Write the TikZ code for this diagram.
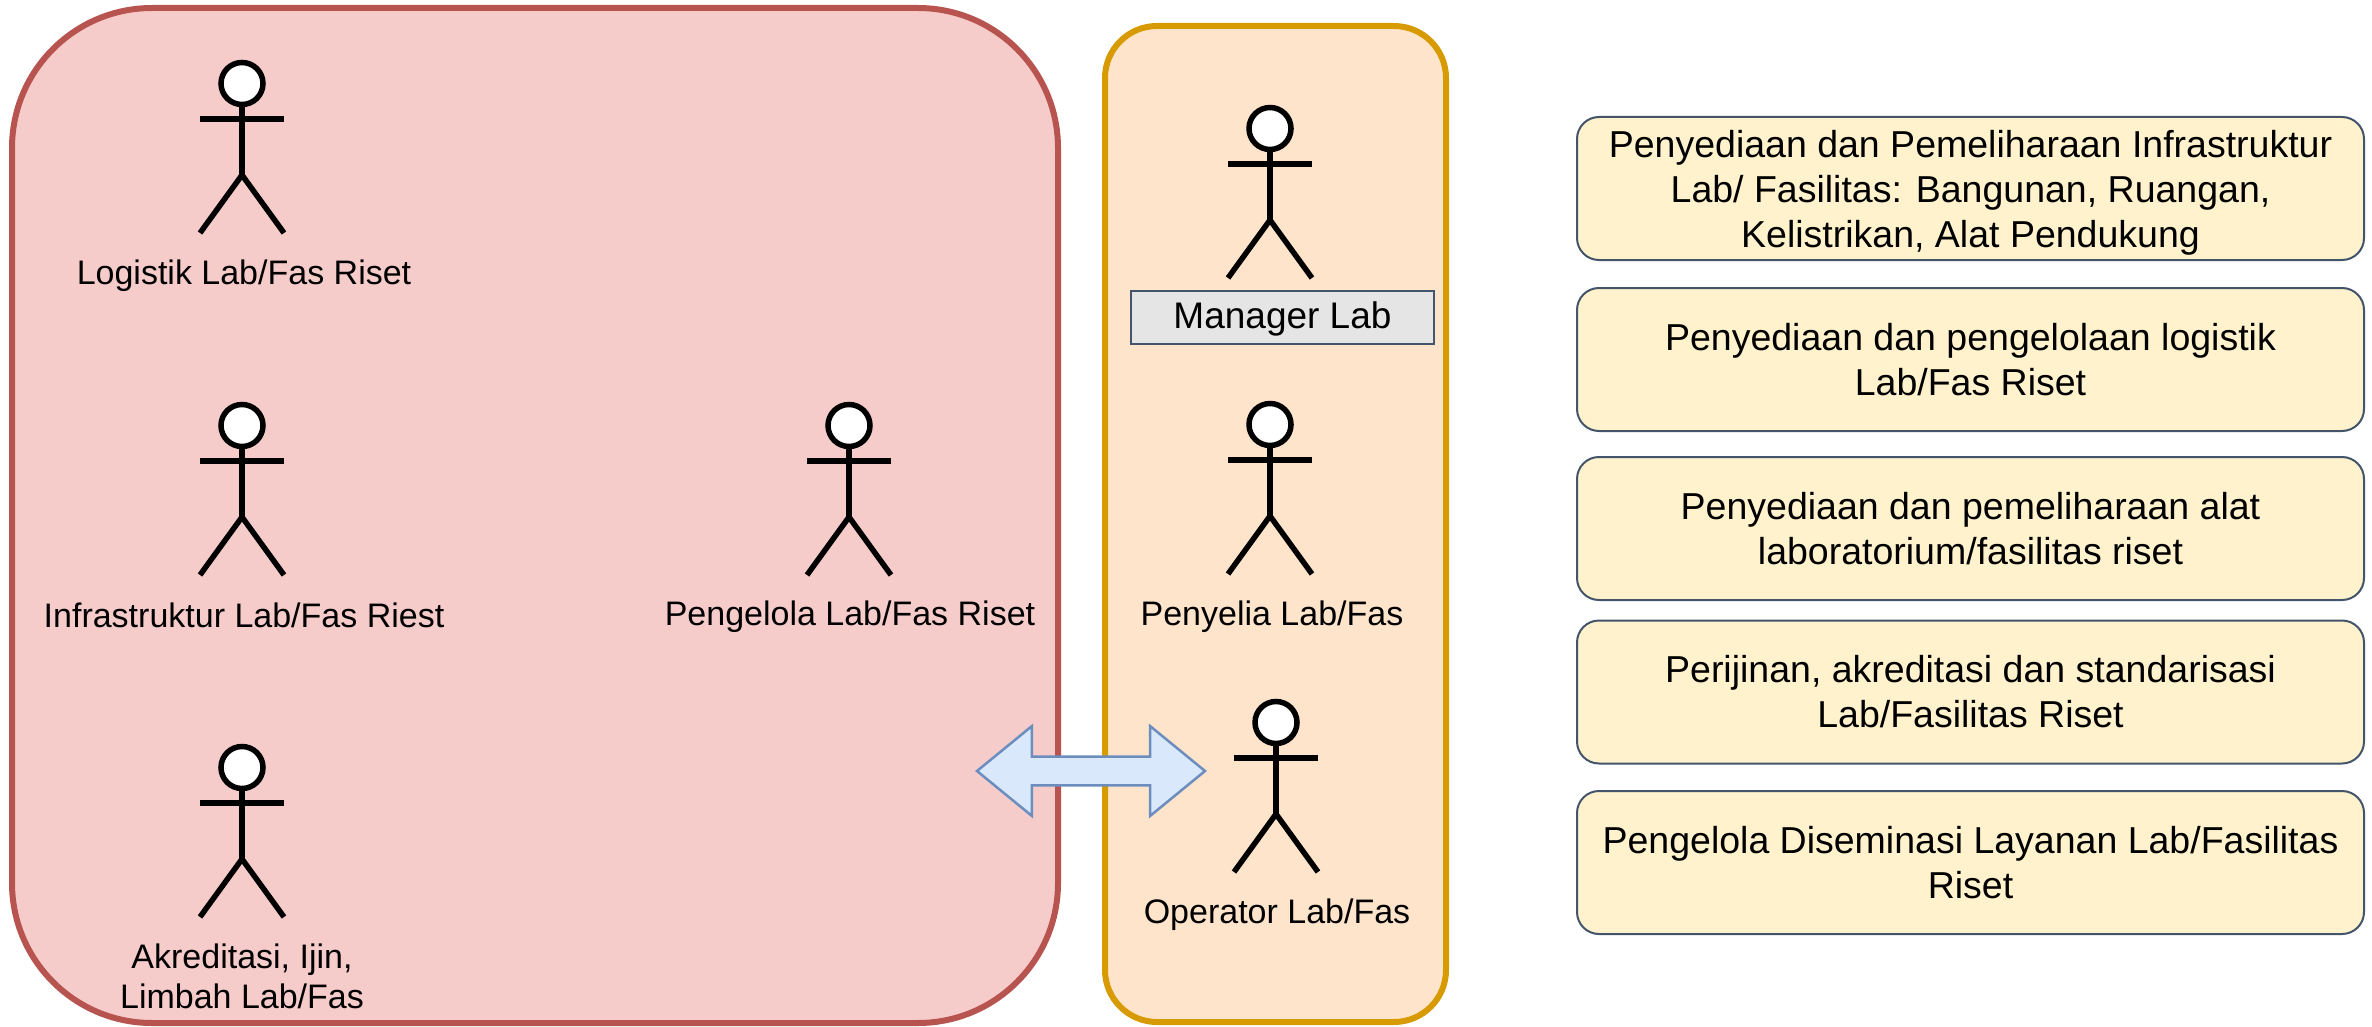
\documentclass[tikz,border=0pt]{standalone}
\usepackage{fontspec}
\setmainfont{Liberation Sans}
\usetikzlibrary{shapes.arrows}
\definecolor{redfill}{HTML}{F6CCCB}
\definecolor{redline}{HTML}{B85450}
\definecolor{orfill}{HTML}{FFE4CC}
\definecolor{orline}{HTML}{D79B00}
\definecolor{yelfill}{HTML}{FFF2CC}
\definecolor{boxline}{HTML}{44546A}
\definecolor{arrfill}{HTML}{DAE8FC}
\definecolor{arrline}{HTML}{6C8EBF}
\tikzset{
  x=1pt,y=-1pt,
  groupred/.style={draw=redline,fill=redfill,line width=6pt,rounded corners=140pt},
  grouporange/.style={draw=orline,fill=orfill,line width=6pt,rounded corners=52pt},
  actorhead/.style={circle,draw=black,fill=white,line width=5.5pt,minimum size=42pt,inner sep=0pt,outer sep=0pt},
  actorfig/.pic={
    \node[actorhead] (-head) at (0,23.5) {};
    \draw[black,line width=5.5pt] (-head.south) -- (0,115) coordinate (-hip);
    \draw[black,line width=5.5pt] (-42,59) -- (42,59);
    \draw[black,line width=5.5pt] (-42,173) -- (-hip) -- (42,173);
  },
  lbl/.style={font=\fontsize{34}{40}\selectfont,align=center,inner sep=0pt,text=black},
  rolebox/.style={draw=boxline,fill=yelfill,line width=2pt,rounded corners=22pt,minimum width=787pt,minimum height=143pt,inner sep=0pt,outer sep=0pt,align=center,font=\fontsize{37.5}{45}\selectfont,text=black},
  tagbox/.style={draw=boxline,fill=black!10,line width=2pt,minimum width=303pt,minimum height=53pt,inner sep=0pt,outer sep=0pt,font=\fontsize{37}{44}\selectfont,text=black},
  blockarrow/.style={shape=double arrow,draw=arrline,fill=arrfill,line width=2.5pt,double arrow head extend=30pt,double arrow tip angle=78.6,minimum height=228pt,minimum width=90pt,inner sep=0pt,inner ysep=13pt,outer sep=0pt}
}
\begin{document}
\begin{tikzpicture}
\useasboundingbox (0,0) rectangle (2372,1027);
\draw[groupred] (12,8) rectangle (1058,1023);
\draw[grouporange] (1105,26) rectangle (1446,1022);

\pic (alog) at (242,60) {actorfig};
\pic (ainf) at (242,402) {actorfig};
\pic (akre) at (242,744) {actorfig};
\pic (apen) at (849,402) {actorfig};
\pic (aman) at (1270,105) {actorfig};
\pic (apny) at (1270,401) {actorfig};
\pic (aopr) at (1276,699) {actorfig};

\node[lbl] (llog) at (244,276) {Logistik Lab/Fas Riset};
\node[lbl] (linf) at (244,615) {Infrastruktur Lab/Fas Riest};
\node[lbl] (lkre) at (242,976) {Akreditasi, Ijin,\\Limbah Lab/Fas};
\node[lbl] (lpen) at (850,616.5) {Pengelola Lab/Fas Riset};
\node[lbl] (lpny) at (1272,617) {Penyelia Lab/Fas};
\node[lbl] (lopr) at (1277,915) {Operator Lab/Fas};
\node[tagbox] (lman) at (1282.5,317.5) {\rule{0pt}{30pt}Manager Lab};

\node[blockarrow] (arrow) at (1091,771) {};

\node[rolebox] (r1) at (1970.5,188.5) {\rule{0pt}{35pt}Penyediaan dan Pemeliharaan Infrastruktur\\Lab/ Fasilitas: Bangunan, Ruangan,\\Kelistrikan, Alat Pendukung};
\node[rolebox] (r2) at (1970.5,359.5) {Penyediaan dan pengelolaan logistik\\Lab/Fas Riset};
\node[rolebox] (r3) at (1970.5,528.5) {Penyediaan dan pemeliharaan alat\\laboratorium/fasilitas riset};
\node[rolebox] (r4) at (1970.5,692) {Perijinan, akreditasi dan standarisasi\\Lab/Fasilitas Riset};
\node[rolebox] (r5) at (1970.5,862.5) {Pengelola Diseminasi Layanan Lab/Fasilitas\\Riset};
\end{tikzpicture}
\end{document}
